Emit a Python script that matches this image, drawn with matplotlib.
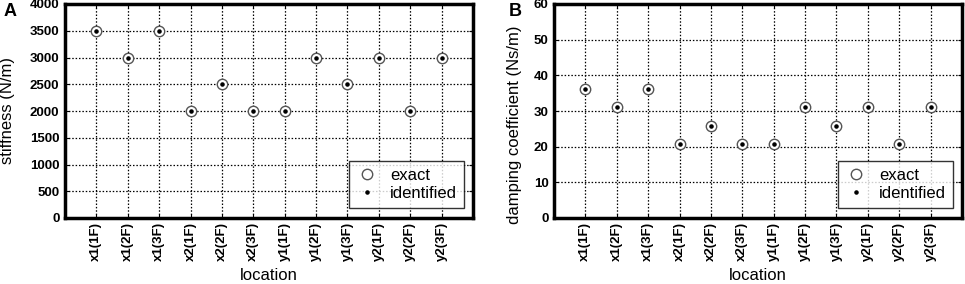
import matplotlib
matplotlib.use("Agg")
import matplotlib.pyplot as plt
import numpy as np

plt.rcParams['font.family'] = ['Liberation Sans', 'DejaVu Sans']

locations = ["x1(1F)", "x1(2F)", "x1(3F)", "x2(1F)", "x2(2F)", "x2(3F)",
             "y1(1F)", "y1(2F)", "y1(3F)", "y2(1F)", "y2(2F)", "y2(3F)"]
stiff_exact = [3500, 3000, 3500, 2000, 2500, 2000, 2000, 3000, 2500, 3000, 2000, 3000]
stiff_ident = [3500, 3000, 3500, 2000, 2500, 2000, 2000, 3000, 2500, 3000, 2000, 3000]
damp_exact = [36.1, 31.0, 36.1, 20.7, 25.9, 20.7, 20.7, 31.0, 25.9, 31.0, 20.7, 31.0]
damp_ident = [36.1, 31.0, 36.1, 20.7, 25.9, 20.7, 20.7, 31.0, 25.9, 31.0, 20.7, 31.0]

fig = plt.figure(figsize=(9.65, 2.84), dpi=100)
ax1 = fig.add_axes([65/965, 1 - 218/284, 408/965, 214/284])
ax2 = fig.add_axes([554/965, 1 - 218/284, 408/965, 214/284])

def draw(ax, exact, ident, ylim, yticks, ylabel, letter, lx, ylab_xy):
    x = np.arange(1, len(locations) + 1)
    ax.plot(x, exact, 'o', ms=7.5, mfc='white', mec='#555555', mew=1.0,
            ls='none', label='exact', zorder=3)
    ax.plot(x, ident, '.', ms=4.5, color='black', ls='none',
            label='identified', zorder=4)
    ax.set_xlim(0, 13)
    ax.set_ylim(*ylim)
    ax.set_xticks(x)
    ax.set_xticklabels(locations, rotation=90, fontsize=9.5, fontweight='bold')
    ax.set_yticks(yticks)
    for t in ax.get_yticklabels():
        t.set_fontweight('bold')
    ax.tick_params(axis='y', labelsize=9.5, direction='in', right=True, length=3, pad=4)
    ax.tick_params(axis='x', direction='in', top=True, length=3, pad=3)
    ax.grid(True, color='black', ls=(0, (1.2, 1.5)), lw=0.9)
    for s in ax.spines.values():
        s.set_linewidth(2.5)
    ax.set_ylabel(ylabel, fontsize=12)
    ax.yaxis.set_label_coords(*ylab_xy)
    ax.set_xlabel('location', fontsize=12)
    ax.xaxis.set_label_coords(0.5, -0.235)
    leg = ax.legend(loc='lower right', fontsize=12, frameon=True, fancybox=False,
                    edgecolor='black', borderpad=0.4, handlelength=1.4,
                    handletextpad=0.7, labelspacing=0.2, borderaxespad=0,
                    bbox_to_anchor=(0.978, 0.047))
    leg.get_frame().set_linewidth(1.0)
    fig.text(lx / 965, 1 - 12 / 284, letter, fontsize=13, fontweight='bold',
             va='center', ha='left')

draw(ax1, stiff_exact, stiff_ident, (0, 4000), np.arange(0, 4001, 500),
     'stiffness (N/m)', 'A', 4, (-0.122, 0.5))
draw(ax2, damp_exact, damp_ident, (0, 60), np.arange(0, 61, 10),
     'damping coefficient (Ns/m)', 'B', 509, (-0.078, 0.435))

fig.savefig('out.png', dpi=100)
